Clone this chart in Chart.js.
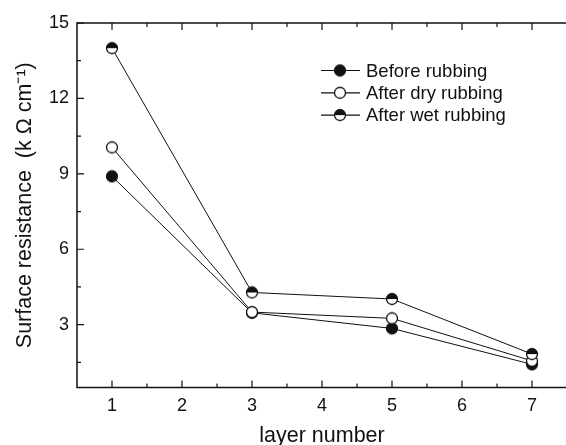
<!DOCTYPE html>
<html>
<head>
<meta charset="utf-8">
<script src="https://cdn.jsdelivr.net/npm/chart.js@4.4.1/dist/chart.umd.min.js"></script>
<style>
html, body { margin: 0; padding: 0; background: #fff; overflow: hidden; }
#wrap { width: 566px; height: 445px; overflow: hidden; }
</style>
</head>
<body>
<div id="wrap"><canvas id="resChart" width="574" height="445"></canvas></div>
<script>
const layers = [1, 3, 5, 7];
const beforeRub = [8.9, 3.47, 2.85, 1.42];
const dryRub = [10.05, 3.5, 3.25, 1.56];
const wetRub = [14.0, 4.28, 4.02, 1.83];
const seriesNames = ['Before rubbing', 'After dry rubbing', 'After wet rubbing'];
const xTicks = [1, 2, 3, 4, 5, 6, 7];
const yTicks = [3, 6, 9, 12, 15];

const FONT = "'Liberation Sans', Arial, sans-serif";
const INK = '#111';

// build a marker image: filled, open or half (top black)
function makeMarker(kind) {
    const c = document.createElement('canvas');
    c.width = 14;
    c.height = 14;
    const g = c.getContext('2d');
    const r = 5.5;
    g.beginPath();
    g.arc(7, 7, r, 0, Math.PI * 2);
    g.fillStyle = kind === 'filled' ? INK : '#fff';
    g.fill();
    if (kind === 'half') {
        g.beginPath();
        g.arc(7, 7, r, Math.PI, Math.PI * 2);
        g.closePath();
        g.fillStyle = INK;
        g.fill();
    }
    g.beginPath();
    g.arc(7, 7, r, 0, Math.PI * 2);
    g.lineWidth = 1.3;
    g.strokeStyle = INK;
    g.stroke();
    return c;
}

const markers = [makeMarker('filled'), makeMarker('open'), makeMarker('half')];

function toPoints(vals) {
    return layers.map((x, i) => ({ x: x, y: vals[i] }));
}

// frame with inward major/minor ticks (bottom, top, left)
const frameTicks = {
    id: 'frameTicks',
    beforeDatasetsDraw(chart) {
        const { ctx, chartArea: a, scales: { x, y } } = chart;
        ctx.save();
        ctx.strokeStyle = INK;
        ctx.lineWidth = 1.5;
        ctx.strokeRect(a.left, a.top, a.right - a.left, a.bottom - a.top);
        ctx.lineWidth = 1.2;
        ctx.beginPath();
        xTicks.forEach(v => {
            const px = x.getPixelForValue(v);
            ctx.moveTo(px, a.bottom); ctx.lineTo(px, a.bottom - 7);
            ctx.moveTo(px, a.top); ctx.lineTo(px, a.top + 7);
            const mx = x.getPixelForValue(v + 0.5);
            if (mx < a.right - 1) {
                ctx.moveTo(mx, a.bottom); ctx.lineTo(mx, a.bottom - 4);
                ctx.moveTo(mx, a.top); ctx.lineTo(mx, a.top + 4);
            }
        });
        yTicks.forEach(v => {
            const py = y.getPixelForValue(v);
            ctx.moveTo(a.left, py); ctx.lineTo(a.left + 7, py);
            const my = y.getPixelForValue(v - 1.5);
            ctx.moveTo(a.left, my); ctx.lineTo(a.left + 4, my);
        });
        ctx.stroke();
        ctx.restore();
    }
};

// legend: short line with marker, then label
const lineLegend = {
    id: 'lineLegend',
    afterDraw(chart) {
        const ctx = chart.ctx;
        ctx.save();
        ctx.font = '18.5px ' + FONT;
        ctx.textBaseline = 'middle';
        ctx.fillStyle = INK;
        chart.data.datasets.forEach((ds, i) => {
            const yy = 70.5 + i * 22.3;
            ctx.strokeStyle = INK;
            ctx.lineWidth = 1.2;
            ctx.beginPath();
            ctx.moveTo(321, yy);
            ctx.lineTo(360, yy);
            ctx.stroke();
            const img = ds.pointStyle;
            ctx.drawImage(img, 340 - img.width / 2, yy - img.height / 2);
            ctx.fillText(ds.label, 366, yy + 1);
        });
        ctx.restore();
    }
};

const datasets = [beforeRub, dryRub, wetRub].map((vals, i) => ({
    label: seriesNames[i],
    data: toPoints(vals),
    borderColor: INK,
    borderWidth: 1,
    pointStyle: markers[i],
    pointRadius: 6,
    pointHoverRadius: 6,
    order: 3 - i
}));

new Chart(document.getElementById('resChart'), {
    type: 'line',
    data: { datasets: datasets },
    options: {
        responsive: false,
        animation: false,
        layout: { padding: { left: 0, top: 23, right: 0, bottom: 0 } },
        plugins: {
            legend: { display: false },
            tooltip: { enabled: false }
        },
        scales: {
            x: {
                type: 'linear',
                min: 0.5,
                max: 7.5,
                afterBuildTicks: s => { s.ticks = xTicks.map(v => ({ value: v })); },
                afterFit: s => { s.height = 57.5; s.paddingLeft = 0; s.paddingRight = 0; },
                grid: { display: false, drawTicks: false },
                border: { display: false },
                ticks: { color: INK, padding: 8, font: { family: FONT, size: 18 } },
                title: {
                    display: true,
                    text: 'layer number',
                    color: INK,
                    font: { family: FONT, size: 21.5 },
                    padding: { top: 0, bottom: -4 }
                }
            },
            y: {
                min: 0.5,
                max: 15,
                afterBuildTicks: s => { s.ticks = yTicks.map(v => ({ value: v })); },
                afterFit: s => { s.width = 77; },
                grid: { display: false, drawTicks: false },
                border: { display: false },
                ticks: { color: INK, padding: 8, font: { family: FONT, size: 18 } },
                title: {
                    display: true,
                    text: 'Surface resistance  (k \u03A9 cm\u207B\u00B9)',
                    color: INK,
                    font: { family: FONT, size: 21.5 },
                    padding: { top: 12, bottom: 0 }
                }
            }
        }
    },
    plugins: [frameTicks, lineLegend]
});
</script>
</body>
</html>
